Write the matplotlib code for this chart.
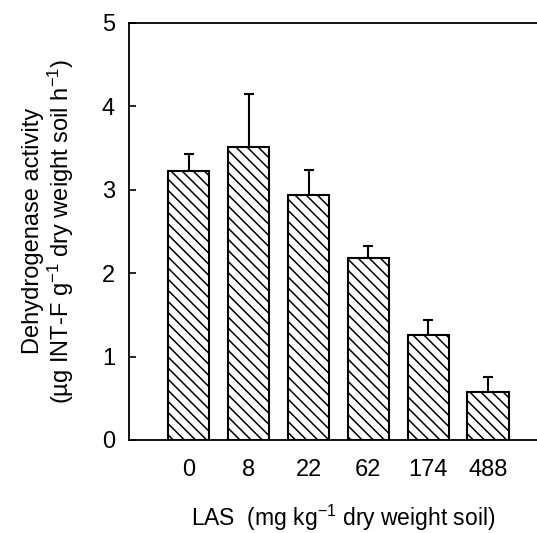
import matplotlib.pyplot as plt
import numpy as np

# Data
las_levels = ['0', '8', '22', '62', '174', '488']
activity   = [3.22, 3.51, 2.94, 2.18, 1.26, 0.57]
err_upper  = [0.21, 0.63, 0.30, 0.14, 0.18, 0.19]

plt.rcParams['font.family'] = ['Liberation Sans', 'DejaVu Sans']
plt.rcParams['hatch.linewidth'] = 1.1
plt.rcParams['mathtext.fontset'] = 'custom'
plt.rcParams['mathtext.rm'] = 'Liberation Sans'
plt.rcParams['mathtext.default'] = 'regular'

fig = plt.figure(figsize=(5.37, 5.33), dpi=100)
ax = fig.add_axes([0.2402, 0.1745, 0.7803, 0.7829])

x = np.arange(len(las_levels))
ax.bar(x, activity, width=0.69, color='white', edgecolor='black',
       linewidth=1.5, hatch='\\\\\\', zorder=2)
ax.errorbar(x, activity, yerr=[np.zeros(len(x)), err_upper], fmt='none',
            ecolor='black', elinewidth=1.5, capsize=3.5, capthick=1.5, zorder=1)

ax.set_xlim(-1.0, 6.0)
ax.set_ylim(0, 5)
ax.set_yticks([0, 1, 2, 3, 4, 5])
ax.set_xticks(x)
ax.set_xticklabels(las_levels)
ax.tick_params(axis='y', direction='in', length=5, width=1.2, pad=10, labelsize=17)
ax.tick_params(axis='x', length=0, pad=14, labelsize=17)
for s in ax.spines.values():
    s.set_linewidth(1.3)

ax.set_ylabel('Dehydrogenase activity\n(µg INT-F g$^{-1}$ dry weight soil h$^{-1}$)',
              fontsize=17, labelpad=19, linespacing=1.05)
ax.set_xlabel('LAS  (mg kg$^{-1}$ dry weight soil)', fontsize=16.5)
ax.xaxis.label.set_va('center')
ax.xaxis.set_label_coords(0.511, -0.186)

plt.savefig('out.png', dpi=100)
